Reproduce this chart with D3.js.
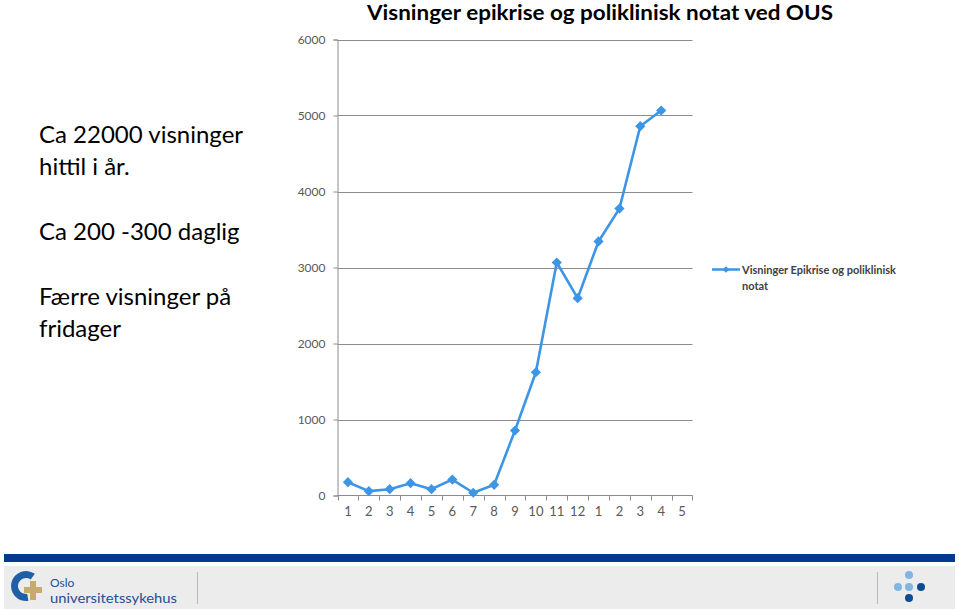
<!DOCTYPE html>
<html><head><meta charset="utf-8">
<script src="https://cdn.jsdelivr.net/npm/d3@7"></script>
<style>body{margin:0;background:#fff;}svg{display:block;}</style>
</head><body>
<svg id="c" width="959" height="609"></svg>
<script>
const categories = ["1","2","3","4","5","6","7","8","9","10","11","12","1","2","3","4","5"];
const values = [175, 57, 83, 162, 83, 210, 36, 141, 855, 1622, 3066, 2596, 3343, 3775, 4859, 5066, null];
const yTicks = [0, 1000, 2000, 3000, 4000, 5000, 6000];
const title = "Visninger epikrise og poliklinisk notat ved OUS";
const seriesName = ["Visninger Epikrise og poliklinisk", "notat"];
const notes = [["Ca 22000 visninger", "hittil i år."], ["Ca 200 -300 daglig"], ["Færre visninger på", "fridager"]];

const svg = d3.select("#c");
const font = "Lato, 'Open Sans', sans-serif";
const blue = "#3d95e6";

const idx = categories.map((d,i)=>i);
const x = d3.scaleBand().domain(idx).range([337.5, 692.5]);
const y = d3.scaleLinear().domain([0, 6000]).range([495.5, 39.5]);

// title
svg.append("text").attr("x", 600).attr("y", 20).attr("text-anchor","middle")
  .attr("font-family", font).attr("font-weight","bold").attr("font-size", 20)
  .attr("textLength", 466).attr("lengthAdjust","spacingAndGlyphs")
  .attr("fill","#000").text(title);

// gridlines
svg.append("g").selectAll("line").data(yTicks.filter(d=>d>0)).join("line")
  .attr("x1", 337.5).attr("x2", 692.5).attr("y1", d=>Math.round(y(d))+0.5).attr("y2", d=>Math.round(y(d))+0.5)
  .attr("stroke","#8c8c8c").attr("stroke-width",1);

// y axis
const yAxis = d3.axisLeft(y).tickValues(yTicks).tickSize(4).tickPadding(8).tickFormat(d3.format("d"));
const gy = svg.append("g").attr("transform","translate(337.5,0)").call(yAxis);
gy.select(".domain").attr("stroke","#8c8c8c");
gy.selectAll(".tick line").attr("stroke","#8c8c8c");
gy.selectAll("text").attr("font-family", font).attr("font-size", 12).attr("fill","#595959");

// x axis
const xAxis = d3.axisBottom(x).tickFormat(i=>categories[i]).tickSize(0).tickPadding(11);
const gx = svg.append("g").attr("transform","translate(0,495.5)").call(xAxis);
gx.select(".domain").attr("stroke","#8c8c8c").attr("d","M337.5,0H692.5");
gx.selectAll("text").attr("font-family", font).attr("font-size", 13).attr("fill","#595959");
// category boundary ticks
gx.append("g").selectAll("line").data(idx.concat([categories.length])).join("line")
  .attr("x1", i=> i<categories.length ? Math.round(x(i))+0.5 : 692.5)
  .attr("x2", i=> i<categories.length ? Math.round(x(i))+0.5 : 692.5)
  .attr("y1",0).attr("y2",5).attr("stroke","#8c8c8c");

// line
const pts = values.map((v,i)=>({i,v})).filter(d=>d.v!==null);
const line = d3.line().x(d=>x(d.i)+x.bandwidth()/2).y(d=>y(d.v));
svg.append("path").datum(pts).attr("d", line).attr("fill","none")
  .attr("stroke", blue).attr("stroke-width", 2.6).attr("stroke-linejoin","round");
svg.append("g").selectAll("path").data(pts).join("path")
  .attr("d", d3.symbol().type(d3.symbolSquare).size(52))
  .attr("transform", d=>`translate(${x(d.i)+x.bandwidth()/2},${y(d.v)}) rotate(45)`)
  .attr("fill", blue);

// legend
const lg = svg.append("g");
lg.append("line").attr("x1",712).attr("x2",740).attr("y1",269.5).attr("y2",269.5).attr("stroke",blue).attr("stroke-width",2.5);
lg.append("path").attr("d", d3.symbol().type(d3.symbolSquare).size(22)).attr("transform","translate(726,269.5) rotate(45)").attr("fill",blue);
lg.selectAll("text").data(seriesName).join("text")
  .attr("x",742).attr("y",(d,i)=>273.5+i*16)
  .attr("font-family", font).attr("font-size", 11).attr("font-weight","bold").attr("fill","#404040").text(d=>d);

// notes
const baselines = [[143,175],[240],[305,337]];
notes.forEach((grp,gi)=>grp.forEach((t,li)=>{
  svg.append("text").attr("x",39).attr("y",baselines[gi][li]).attr("font-family", font)
    .attr("font-size",24).attr("fill","#000").text(t);
}));

// footer
svg.append("rect").attr("x",4).attr("y",554).attr("width",951).attr("height",8).attr("fill","#003a8c");
svg.append("rect").attr("x",4).attr("y",566).attr("width",951).attr("height",43).attr("fill","#ececec");
svg.append("line").attr("x1",197.5).attr("x2",197.5).attr("y1",572).attr("y2",604).attr("stroke","#b8b8b8");
svg.append("line").attr("x1",877.5).attr("x2",877.5).attr("y1",572).attr("y2",604).attr("stroke","#b8b8b8");
// logo
const arc = d3.arc().innerRadius(8).outerRadius(15).startAngle(Math.PI*0.95).endAngle(Math.PI*2.2);
svg.append("path").attr("d", arc()).attr("transform","translate(26,586)").attr("fill","#1f5fa8");
svg.append("path").attr("d","M30,581h6v6h6v6h-6v7h-6v-7h-6v-6h6z").attr("fill","#c8aa6e");
svg.append("text").attr("x",50).attr("y",587).attr("font-family",font).attr("font-size",12).attr("fill","#1f4f95").text("Oslo");
svg.append("text").attr("x",50).attr("y",602.5).attr("font-family",font).attr("font-size",12.5)
  .attr("textLength",127).attr("lengthAdjust","spacingAndGlyphs").attr("fill","#1f4f95").text("universitetssykehus");
const dots = [[909,575,"#7fb6e3"],[898,587,"#7fb6e3"],[909,587,"#7fb6e3"],[921,587,"#0e4c92"],[909,598,"#0e4c92"]];
svg.append("g").selectAll("circle").data(dots).join("circle")
  .attr("cx",d=>d[0]).attr("cy",d=>d[1]).attr("r",4).attr("fill",d=>d[2]);
</script>
</body></html>
